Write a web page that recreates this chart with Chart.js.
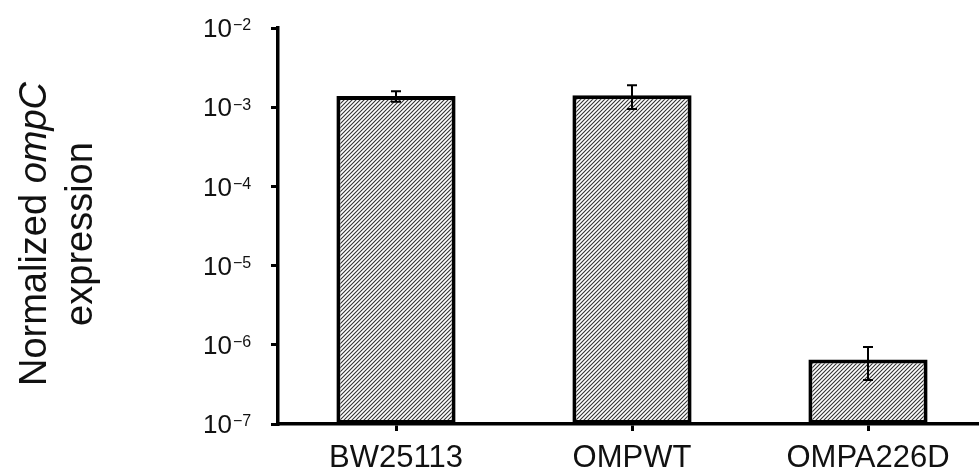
<!DOCTYPE html>
<html>
<head>
<meta charset="utf-8">
<script src="https://cdn.jsdelivr.net/npm/chart.js@4.4.1/dist/chart.umd.min.js"></script>
<style>
  html, body { margin: 0; padding: 0; background: #fff; overflow: hidden; }
  #wrap { width: 986px; height: 472px; position: relative; }
</style>
</head>
<body>
<div id="wrap"><canvas id="chart"></canvas></div>
<script>
// data
const strains = ['BW25113', 'OMPWT', 'OMPA226D'];
const expression = [1.38e-3, 1.42e-3, 6.5e-7];
const expressionErr = [0.21e-3, 0.47e-3, 2.9e-7];
const yTickExponents = [-7, -6, -5, -4, -3, -2];

const FONT = '"Liberation Sans", Arial, sans-serif';

// diagonal hatch fill like the original bars
function makeHatch() {
    const c = document.createElement('canvas');
    c.width = 4;
    c.height = 4;
    const g = c.getContext('2d');
    g.fillStyle = '#fff';
    g.fillRect(0, 0, 4, 4);
    g.strokeStyle = '#333';
    g.lineWidth = 1.1;
    g.beginPath();
    g.moveTo(0, 4); g.lineTo(4, 0);
    g.moveTo(-1, 1); g.lineTo(1, -1);
    g.moveTo(3, 5); g.lineTo(5, 3);
    g.stroke();
    return g.createPattern(c, 'repeat');
}

// error bars drawn on top of the bars
const errorBars = {
    id: 'errorBars',
    afterDatasetsDraw(chart) {
        const ctx = chart.ctx;
        const y = chart.scales.y;
        const meta = chart.getDatasetMeta(0);
        ctx.save();
        ctx.strokeStyle = '#000';
        ctx.lineWidth = 2;
        meta.data.forEach((bar, i) => {
            const top = y.getPixelForValue(expression[i] + expressionErr[i]);
            const bot = y.getPixelForValue(expression[i] - expressionErr[i]);
            ctx.beginPath();
            ctx.moveTo(bar.x, top); ctx.lineTo(bar.x, bot);
            ctx.moveTo(bar.x - 5, top); ctx.lineTo(bar.x + 5, top);
            ctx.moveTo(bar.x - 5, bot); ctx.lineTo(bar.x + 5, bot);
            ctx.stroke();
        });
        ctx.restore();
    }
};

// power-of-ten tick labels and the two-line axis title
const yLabels = {
    id: 'yLabels',
    afterDraw(chart) {
        const ctx = chart.ctx;
        const y = chart.scales.y;
        ctx.save();
        ctx.fillStyle = '#111';
        yTickExponents.forEach(e => {
            const py = y.getPixelForValue(Math.pow(10, e));
            ctx.font = '26px ' + FONT;
            ctx.textAlign = 'right';
            ctx.textBaseline = 'middle';
            ctx.fillText('10', 232, py + 2);
            ctx.font = '16px ' + FONT;
            ctx.textAlign = 'left';
            ctx.textBaseline = 'top';
            ctx.fillText('\u2212' + Math.abs(e), 233, py - 10);
        });

        // title, rotated
        const cy = 234;
        ctx.textBaseline = 'alphabetic';
        ctx.textAlign = 'left';
        const normal = '38px ' + FONT;
        const italic = 'italic 38px ' + FONT;
        ctx.save();
        ctx.translate(46, cy);
        ctx.rotate(-Math.PI / 2);
        ctx.font = normal;
        const w1 = ctx.measureText('Normalized ').width;
        ctx.font = italic;
        const w2 = ctx.measureText('ompC').width;
        let x0 = -(w1 + w2) / 2;
        ctx.font = normal;
        ctx.fillText('Normalized ', x0, 0);
        ctx.font = italic;
        ctx.fillText('ompC', x0 + w1, 0);
        ctx.restore();

        ctx.save();
        ctx.translate(92, cy);
        ctx.rotate(-Math.PI / 2);
        ctx.font = normal;
        ctx.textAlign = 'center';
        ctx.fillText('expression', 0, 0);
        ctx.restore();
        ctx.restore();
    }
};

document.addEventListener('DOMContentLoaded', function() {
    const ctx = document.getElementById('chart').getContext('2d');
    new Chart(ctx, {
        type: 'bar',
        data: {
            labels: strains,
            datasets: [{
                data: expression,
                backgroundColor: makeHatch(),
                borderColor: '#000',
                borderWidth: 4,
                borderSkipped: false,
                barPercentage: 0.505,
                categoryPercentage: 1
            }]
        },
        options: {
            responsive: true,
            maintainAspectRatio: false,
            animation: false,
            layout: { padding: { top: 28, left: 0, right: 0, bottom: 0 } },
            plugins: {
                legend: { display: false },
                tooltip: { enabled: false }
            },
            scales: {
                x: {
                    afterFit: s => { s.height = 48; },
                    grid: {
                        offset: false,
                        drawOnChartArea: false,
                        tickLength: 7,
                        lineWidth: 3,
                        color: '#000'
                    },
                    border: { color: '#000', width: 3.5 },
                    ticks: {
                        color: '#111',
                        padding: 9,
                        font: { family: FONT, size: 31 }
                    }
                },
                y: {
                    type: 'logarithmic',
                    min: 1e-7,
                    max: 1e-2,
                    afterFit: s => { s.width = 278; },
                    afterBuildTicks: s => {
                        s.ticks = yTickExponents.map(e => ({ value: Math.pow(10, e) }));
                    },
                    grid: {
                        drawOnChartArea: false,
                        tickLength: 7,
                        lineWidth: 3,
                        color: '#000'
                    },
                    border: { color: '#000', width: 3.5 },
                    ticks: { display: false }
                }
            }
        },
        plugins: [errorBars, yLabels]
    });
});
</script>
</body>
</html>
